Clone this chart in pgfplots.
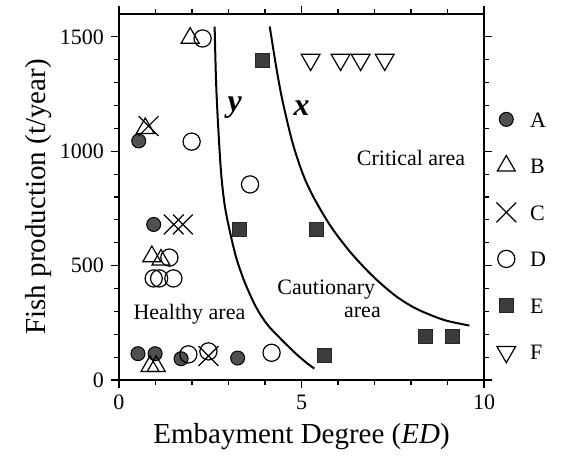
\documentclass[border=0pt]{standalone}
\usepackage{fontspec}
\setmainfont{Liberation Serif}
\usepackage{pgfplots}
\pgfplotsset{compat=1.18}
\definecolor{dotgray}{HTML}{505050}
\definecolor{sqgray}{HTML}{3C3C3C}
\begin{document}
\begin{tikzpicture}
\begin{axis}[
  name=ax,
  at={(0,0)}, anchor=south west,
  width=182.5pt, height=183pt, scale only axis,
  xmin=0, xmax=10, ymin=0, ymax=1600,
  xtick={0,5,10}, ytick={0,500,1000,1500},
  minor x tick num=4, minor y tick num=4,
  tick align=outside,
  major tick length=4pt, minor tick length=2.5pt,
  axis line style={line width=0.8pt},
  every tick/.style={black, line width=0.6pt},
  tick label style={font=\fontsize{11}{13}\selectfont},
  /pgf/number format/assume math mode=true,
  /pgf/number format/1000 sep={},
  xlabel={Embayment Degree (\textit{ED})},
  ylabel={Fish production (t/year)},
  label style={font=\fontsize{14.5}{16}\selectfont},
  ylabel style={yshift=-3pt},
  clip=false,
  legend cell align=left,
  legend style={at={(1,1)}, anchor=north west, xshift=6pt, yshift=-46.5pt,
    draw=none, fill=none, inner sep=0pt, row sep=11.25pt, column sep=7pt,
    font=\fontsize{11}{11}\selectfont,
    nodes={inner sep=0pt, minimum height=12pt, text height=8pt, text depth=0pt}},
]
% A
\addplot[only marks, mark=*, mark size=3.5pt, mark options={fill=dotgray, draw=black, line width=0.5pt}]
  coordinates {(0.52,115) (0.99,115) (1.7,93) (3.25,96) (0.95,680) (0.54,1045)};
\addlegendentry{A}
% B
\addplot[only marks, mark=triangle, mark size=5.2pt, mark options={draw=black, line width=0.6pt}]
  coordinates {(1.95,1495) (0.72,1100) (0.9,540) (1.15,525) (0.85,60) (1.02,60)};
\addlegendentry{B}
% C
\addplot[only marks, mark=x, mark size=7pt, mark options={draw=black, line width=0.6pt}]
  coordinates {(0.81,1110) (1.5,680) (1.75,680) (2.45,105)};
\addlegendentry{C}
% D
\addplot[only marks, mark=o, mark size=4.3pt, mark options={draw=black, line width=0.6pt}]
  coordinates {(2.29,1493) (1.99,1042) (3.59,855) (1.38,535) (0.95,444) (1.1,444) (1.49,444) (1.9,112) (2.45,125) (4.18,119)};
\addlegendentry{D}
% E
\addplot[only marks, mark=square*, mark size=3.5pt, mark options={fill=sqgray, draw=black!85, line width=0.4pt}]
  coordinates {(3.93,1395) (3.31,657) (5.41,660) (5.62,107) (8.39,190) (9.13,190)};
\addlegendentry{E}
% F
\addplot[only marks, mark=triangle, mark size=5.4pt, mark options={rotate=180, draw=black, line width=0.6pt}]
  coordinates {(5.25,1400) (6.07,1400) (6.62,1400) (7.28,1400)};
\addlegendentry{F}
% curve y
\addplot[smooth, line width=1pt, black, forget plot]
  coordinates {(2.62,1545) (2.66,1300) (2.72,1100) (2.80,900) (2.90,760) (3.05,640) (3.22,530) (3.45,425) (3.75,320) (4.05,245) (4.4,185) (4.8,122) (5.1,80) (5.35,50)};
% curve x
\addplot[smooth, line width=1pt, black, forget plot]
  coordinates {(4.13,1545) (4.3,1375) (4.47,1228) (4.75,1040) (5.05,895) (5.36,790) (5.8,672) (6.28,570) (6.7,495) (7.1,432) (7.6,365) (8.1,315) (8.6,280) (9.0,258) (9.6,238)};
\node[font=\fontsize{16}{16}\selectfont\bfseries\itshape] at (axis cs:3.17,1190) {y};
\node[font=\fontsize{16}{16}\selectfont\bfseries\itshape] at (axis cs:5.0,1190) {x};
\node[font=\fontsize{11}{13}\selectfont] at (axis cs:8.0,970) {Critical area};
\node[font=\fontsize{11}{13}\selectfont] at (axis cs:5.68,396) {Cautionary};
\node[font=\fontsize{11}{13}\selectfont] at (axis cs:6.67,295) {area};
\node[font=\fontsize{11}{13}\selectfont] at (axis cs:1.93,288) {Healthy area};
\end{axis}
\pgfresetboundingbox
\path[use as bounding box] ([xshift=-59.5pt,yshift=-38.5pt]ax.south west) rectangle ([xshift=40.5pt,yshift=7pt]ax.north east);
\end{tikzpicture}
\end{document}
